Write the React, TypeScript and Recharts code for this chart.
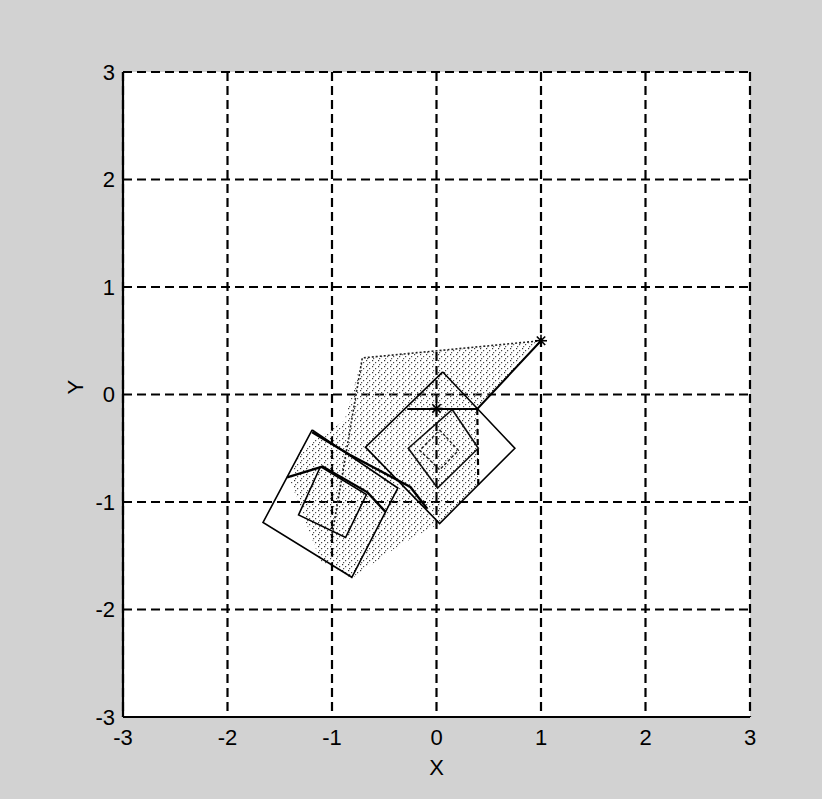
import React from 'react';
import { ScatterChart, Scatter, XAxis, YAxis, CartesianGrid } from 'recharts';

const ticks = [-3, -2, -1, 0, 1, 2, 3];

// marked points
const startPoint = [{ x: 1, y: 0.5 }];
const pivotPoint = [{ x: 0, y: -0.13 }];

// arm from the start point, then the short horizontal bar
const armLine = [
  { x: 1, y: 0.5 },
  { x: 0.39, y: -0.135 },
  { x: -0.28, y: -0.135 },
];
const dropLine = [
  { x: 0.39, y: -0.135 },
  { x: 0.4, y: -0.84 },
];

// shaded sweep behind the squares
const sweepArea = [
  { x: 1, y: 0.49 },
  { x: -0.71, y: 0.34 },
  { x: -0.88, y: -0.24 },
  { x: -1.31, y: -0.52 },
  { x: -1.4, y: -0.8 },
  { x: -1.11, y: -1.55 },
  { x: -0.81, y: -1.71 },
  { x: -0.35, y: -1.4 },
  { x: 0.03, y: -1.2 },
  { x: 0.4, y: -0.84 },
  { x: 0.39, y: -0.14 },
  { x: 1, y: 0.49 },
];
const sweepEdge = [
  { x: 1, y: 0.5 },
  { x: -0.71, y: 0.34 },
  { x: -1.0, y: -1.31 },
];

// squares
const bigDiamond = [
  { x: 0.06, y: 0.21 },
  { x: 0.75, y: -0.5 },
  { x: 0.03, y: -1.2 },
  { x: -0.68, y: -0.49 },
  { x: 0.06, y: 0.21 },
];
const innerSquare = [
  { x: 0.15, y: -0.14 },
  { x: 0.4, y: -0.5 },
  { x: 0.01, y: -0.87 },
  { x: -0.27, y: -0.5 },
  { x: 0.15, y: -0.14 },
];
const smallSquare = [
  { x: 0.03, y: -0.33 },
  { x: 0.21, y: -0.52 },
  { x: 0.03, y: -0.7 },
  { x: -0.16, y: -0.52 },
  { x: 0.03, y: -0.33 },
];
const lowerSquare = [
  { x: -1.19, y: -0.33 },
  { x: -1.66, y: -1.19 },
  { x: -0.81, y: -1.7 },
  { x: -0.37, y: -0.87 },
  { x: -1.19, y: -0.33 },
];
const lowerInner = [
  { x: -1.11, y: -0.67 },
  { x: -1.32, y: -1.12 },
  { x: -0.87, y: -1.33 },
  { x: -0.67, y: -0.93 },
  { x: -1.11, y: -0.67 },
];

// heavy traces
const traceA = [
  { x: -1.43, y: -0.77 },
  { x: -1.09, y: -0.67 },
  { x: -0.66, y: -0.91 },
  { x: -0.49, y: -1.09 },
];
const traceB = [
  { x: -1.19, y: -0.35 },
  { x: -0.83, y: -0.56 },
  { x: -0.25, y: -0.86 },
  { x: -0.09, y: -1.06 },
];

const font = '"Liberation Sans Narrow", "Liberation Sans", Arial, sans-serif';

const Nothing = () => <g />;

const Asterisk = (props: any) => {
  const { cx, cy } = props;
  const r = 6;
  const d = r * 0.7;
  return (
    <g stroke="#000" strokeWidth={1.6}>
      <line x1={cx - r} y1={cy} x2={cx + r} y2={cy} />
      <line x1={cx} y1={cy - r} x2={cx} y2={cy + r} />
      <line x1={cx - d} y1={cy - d} x2={cx + d} y2={cy + d} />
      <line x1={cx - d} y1={cy + d} x2={cx + d} y2={cy - d} />
    </g>
  );
};

export default function App() {
  const tickStyle = { fill: '#000', fontSize: 22, fontFamily: font };
  return (
    <div
      style={{
        position: 'absolute',
        left: 0,
        top: 0,
        width: 822,
        height: 799,
        background: '#d2d2d2',
      }}
    >
      <ScatterChart width={822} height={799} margin={{ top: 72, right: 72, bottom: 32, left: 73 }}>
        <defs>
          <pattern id="stipple" width="6" height="6" patternUnits="userSpaceOnUse">
            <rect x="0" y="0" width="1.2" height="1.2" fill="#333" />
            <rect x="3" y="2" width="1.2" height="1.2" fill="#444" />
            <rect x="1" y="4" width="1.2" height="1.2" fill="#555" />
          </pattern>
        </defs>
        <CartesianGrid fill="#fff" stroke="#000" strokeWidth={2.2} strokeDasharray="9 5" />
        <XAxis
          type="number"
          dataKey="x"
          domain={[-3, 3]}
          ticks={ticks}
          allowDataOverflow
          height={50}
          tickLine={false}
          tickSize={0}
          tickMargin={12}
          axisLine={{ stroke: '#000', strokeWidth: 2.2 }}
          tick={tickStyle}
          label={{ value: 'X', position: 'insideBottom', offset: -8, fill: '#000', fontSize: 22, fontFamily: font }}
        />
        <YAxis
          type="number"
          dataKey="y"
          domain={[-3, 3]}
          ticks={ticks}
          allowDataOverflow
          width={50}
          tickLine={false}
          tickSize={0}
          tickMargin={8}
          axisLine={{ stroke: '#000', strokeWidth: 2.2 }}
          tick={tickStyle}
          label={{ value: 'Y', angle: -90, position: 'insideLeft', offset: 2, fill: '#000', fontSize: 22, fontFamily: font }}
        />
        <Scatter data={sweepArea} shape={Nothing} line={{ fill: 'url(#stipple)', stroke: 'none' }} isAnimationActive={false} />
        <Scatter data={sweepEdge} shape={Nothing} line={{ stroke: '#222', strokeWidth: 1.6, strokeDasharray: '2 2' }} isAnimationActive={false} />
        <Scatter data={bigDiamond} shape={Nothing} line={{ stroke: '#000', strokeWidth: 1.6 }} isAnimationActive={false} />
        <Scatter data={innerSquare} shape={Nothing} line={{ stroke: '#111', strokeWidth: 1.6 }} isAnimationActive={false} />
        <Scatter data={smallSquare} shape={Nothing} line={{ stroke: '#222', strokeWidth: 1.4, strokeDasharray: '3 2' }} isAnimationActive={false} />
        <Scatter data={lowerSquare} shape={Nothing} line={{ stroke: '#000', strokeWidth: 1.6 }} isAnimationActive={false} />
        <Scatter data={lowerInner} shape={Nothing} line={{ stroke: '#000', strokeWidth: 1.6 }} isAnimationActive={false} />
        <Scatter data={traceA} shape={Nothing} line={{ stroke: '#000', strokeWidth: 2.4 }} isAnimationActive={false} />
        <Scatter data={traceB} shape={Nothing} line={{ stroke: '#000', strokeWidth: 2.4 }} isAnimationActive={false} />
        <Scatter data={armLine} shape={Nothing} line={{ stroke: '#000', strokeWidth: 2 }} isAnimationActive={false} />
        <Scatter data={dropLine} shape={Nothing} line={{ stroke: '#000', strokeWidth: 2.2, strokeDasharray: '6 4' }} isAnimationActive={false} />
        <Scatter data={startPoint} shape={Asterisk} isAnimationActive={false} />
        <Scatter data={pivotPoint} shape={Asterisk} isAnimationActive={false} />
      </ScatterChart>
    </div>
  );
}
